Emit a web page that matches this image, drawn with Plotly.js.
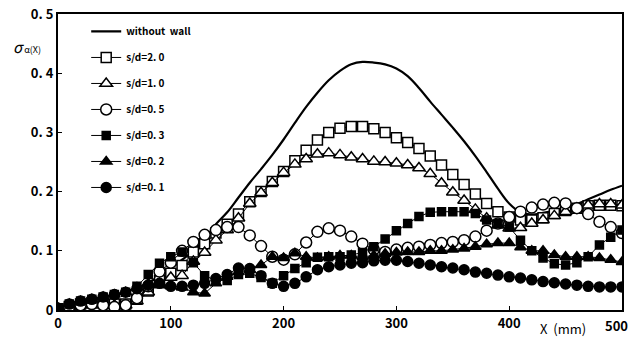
<!DOCTYPE html>
<html>
<head>
<meta charset="utf-8">
<script src="https://cdn.plot.ly/plotly-3.0.1.min.js"></script>
<style>html,body{margin:0;padding:0;background:#fff;}#chart{width:631px;height:337px;}</style>
</head>
<body>
<div id="chart"></div>
<script>
// x positions (mm)
const xMm = [0,10,20,30,40,50,60,70,80,90,100,110,120,130,140,150,160,170,180,190,200,210,220,230,240,250,260,270,280,290,300,310,320,330,340,350,360,370,380,390,400,410,420,430,440,450,460,470,480,490,500];

const withoutWall = [0,0.008,0.014,0.018,0.022,0.026,0.03,0.037,0.046,0.057,0.07,0.085,0.1,0.12,0.145,0.165,0.19,0.215,0.238,0.262,0.288,0.316,0.343,0.367,0.388,0.404,0.415,0.419,0.418,0.415,0.408,0.395,0.375,0.352,0.33,0.308,0.285,0.26,0.233,0.205,0.18,0.165,0.161,0.164,0.168,0.173,0.179,0.187,0.195,0.203,0.21];

const sd20 = [0.002,0.006,0.01,0.012,0.012,0.01,0.01,0.018,0.032,0.05,0.062,0.075,0.098,0.112,0.13,0.145,0.162,0.183,0.2,0.217,0.234,0.252,0.27,0.287,0.3,0.307,0.31,0.31,0.306,0.3,0.291,0.283,0.273,0.26,0.245,0.229,0.212,0.196,0.18,0.166,0.157,0.152,0.152,0.156,0.163,0.168,0.172,0.176,0.177,0.177,0.176];

const sd10 = [0.002,0.006,0.009,0.01,0.01,0.008,0.008,0.015,0.03,0.045,0.055,0.058,0.082,0.097,0.118,0.135,0.155,0.18,0.198,0.215,0.232,0.246,0.255,0.263,0.265,0.262,0.258,0.255,0.251,0.25,0.248,0.245,0.24,0.23,0.214,0.199,0.185,0.17,0.155,0.143,0.138,0.139,0.146,0.152,0.159,0.166,0.172,0.177,0.179,0.179,0.177];

const sd05 = [0.002,0.005,0.008,0.01,0.008,0.005,0.008,0.02,0.04,0.065,0.08,0.1,0.115,0.127,0.135,0.14,0.14,0.126,0.108,0.09,0.085,0.094,0.114,0.132,0.138,0.134,0.124,0.112,0.102,0.098,0.102,0.105,0.107,0.11,0.113,0.115,0.118,0.124,0.134,0.146,0.157,0.166,0.173,0.178,0.181,0.18,0.172,0.162,0.149,0.14,0.13];

const sd03 = [0.003,0.01,0.015,0.018,0.022,0.026,0.03,0.04,0.06,0.079,0.09,0.098,0.08,0.058,0.05,0.05,0.06,0.062,0.055,0.045,0.058,0.07,0.08,0.089,0.09,0.09,0.093,0.097,0.107,0.12,0.134,0.146,0.158,0.165,0.166,0.166,0.166,0.163,0.152,0.146,0.14,0.118,0.1,0.088,0.078,0.076,0.08,0.09,0.11,0.123,0.135];

const sd02 = [0.003,0.01,0.015,0.018,0.022,0.026,0.03,0.038,0.045,0.042,0.04,0.038,0.03,0.028,0.045,0.056,0.064,0.068,0.076,0.09,0.088,0.096,0.09,0.088,0.09,0.092,0.092,0.09,0.092,0.095,0.097,0.098,0.098,0.1,0.1,0.102,0.104,0.107,0.111,0.113,0.113,0.106,0.1,0.1,0.093,0.09,0.09,0.09,0.088,0.085,0.081];

const sd01 = [0.003,0.01,0.015,0.018,0.022,0.026,0.03,0.036,0.042,0.045,0.04,0.04,0.042,0.045,0.053,0.06,0.071,0.07,0.058,0.045,0.04,0.045,0.056,0.068,0.073,0.076,0.079,0.08,0.083,0.084,0.084,0.082,0.079,0.076,0.073,0.071,0.068,0.064,0.062,0.059,0.056,0.054,0.051,0.048,0.046,0.044,0.042,0.04,0.039,0.039,0.039];

const seriesNames = ["without  wall","s/d=2. 0","s/d=1. 0","s/d=0. 5","s/d=0. 3","s/d=0. 2","s/d=0. 1"];
const yTickVals = [0,0.1,0.2,0.3,0.4,0.5];
const yTickText = ["0","0. 1","0. 2","0. 3","0. 4","0. 5"];
const xTickVals = [0,100,200,300,400,500];
const xTickText = ["0","100","200","300","400","500"];

function mk(y, name, sym, fill, size, grp){
  return {x:xMm, y:y, name:name, type:'scatter', mode:'lines+markers', legendgroup:grp,
    line:{color:'#000', width:1},
    marker:{symbol:sym, size:size, color:fill, line:{color:'#000', width:1.5}}};
}
const traces = [
  {x:xMm, y:withoutWall, name:seriesNames[0], type:'scatter', mode:'lines', legendgroup:'g0',
   line:{color:'#000', width:2.2, shape:'spline'}},
  mk(sd20, seriesNames[1], 'square', '#fff', 10, 'g1'),
  mk(sd10, seriesNames[2], 'triangle-up', '#fff', 11, 'g2'),
  mk(sd05, seriesNames[3], 'circle', '#fff', 11, 'g3'),
  mk(sd03, seriesNames[4], 'square', '#000', 8, 'g4'),
  mk(sd02, seriesNames[5], 'triangle-up', '#000', 10, 'g5'),
  mk(sd01, seriesNames[6], 'circle', '#000', 10, 'g6')
];

// last x tick label sits at the right edge: draw it right-aligned so it is not cut
const xTickTextShown = xTickText.map((t, i) => i === xTickText.length - 1 ? '' : t);

const font = "'Noto Sans CJK JP', 'Liberation Sans', sans-serif";
const layout = {
  width:631, height:337,
  margin:{l:58, r:9, t:14, b:27},
  paper_bgcolor:'#fff', plot_bgcolor:'#fff',
  showlegend:true,
  legend:{x:0.05, y:0.99, xanchor:'left', yanchor:'top', bgcolor:'rgba(0,0,0,0)',
    font:{family:font, size:10, color:'#000', weight:'bold'}, tracegroupgap:7, traceorder:'grouped', itemwidth:30},
  xaxis:{range:[0,500], tickvals:xTickVals, ticktext:xTickTextShown, ticks:'inside', ticklen:4, tickcolor:'#000',
    showline:true, linecolor:'#000', linewidth:2, mirror:true, showgrid:false, zeroline:false,
    tickfont:{family:font, size:13, color:'#000', weight:'bold'}},
  yaxis:{range:[0,0.5], tickvals:yTickVals, ticktext:yTickText, ticks:'inside', ticklen:4, tickcolor:'#000',
    showline:true, linecolor:'#000', linewidth:2, mirror:true, showgrid:false, zeroline:false,
    tickfont:{family:font, size:13, color:'#000', weight:'bold'}},
  annotations:[
    {xref:'paper', yref:'paper', x:-0.083, y:0.89, xanchor:'left', yanchor:'middle', showarrow:false,
     text:"<i>σ</i><span style='font-size:9px'> α(X)</span>", font:{family:font, size:15, color:'#000'}},
    {xref:'paper', yref:'paper', x:0.895, y:-0.025, xanchor:'center', yanchor:'top', showarrow:false,
     text:"X  (mm)", font:{family:font, size:13, color:'#000'}},
    {xref:'x', yref:'paper', x:xTickVals[xTickVals.length-1], y:-0.013, xanchor:'center', yanchor:'top', xshift:-6, showarrow:false,
     text:xTickText[xTickText.length-1], font:{family:font, size:13, color:'#000', weight:'bold'}}
  ]
};
Plotly.newPlot('chart', traces, layout, {displayModeBar:false, staticPlot:true});
</script>
</body>
</html>
